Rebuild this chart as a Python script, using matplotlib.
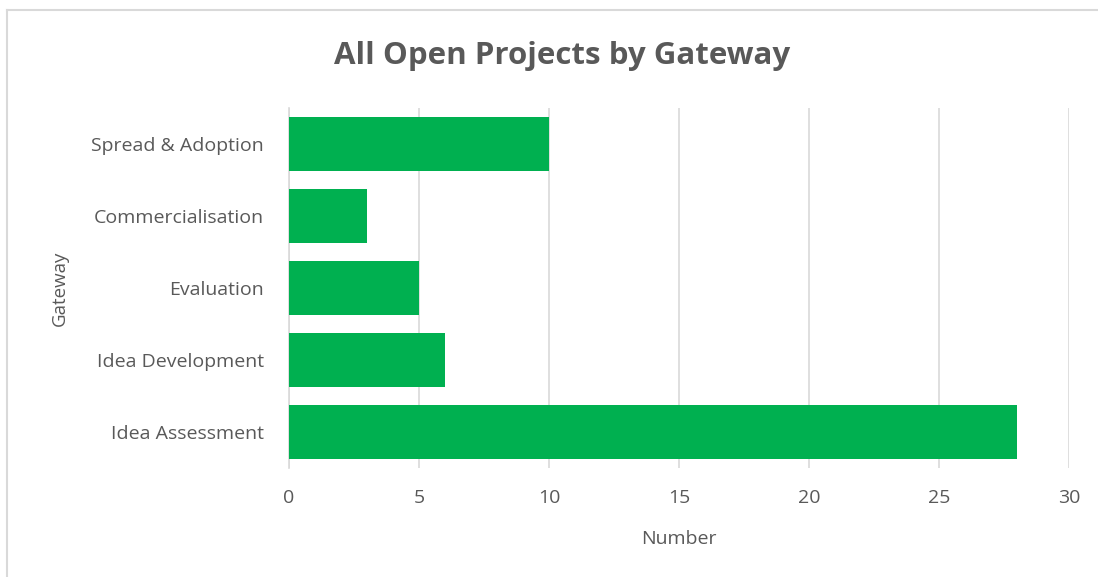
import matplotlib
matplotlib.use("Agg")
import matplotlib.pyplot as plt
from matplotlib.lines import Line2D

categories = ["Idea Assessment", "Idea Development", "Evaluation", "Commercialisation", "Spread & Adoption"]
values = [28, 6, 5, 3, 10]
xticks = [0, 5, 10, 15, 20, 25, 30]

plt.rcParams['font.family'] = ['Open Sans', 'DejaVu Sans']
W, H = 1098, 577
fig = plt.figure(figsize=(W/100, H/100), dpi=100)
ax = fig.add_axes([289/W, 1-468/H, (1069-289)/W, (468-108)/H])

ax.barh(range(len(categories)), values, height=0.74, color="#00B050", zorder=3)
ax.set_ylim(-0.5, len(categories)-0.5)
ax.set_xlim(0, 30)
ax.set_xticks(xticks)
ax.set_yticks(range(len(categories)))
ax.set_yticklabels(categories)
ax.grid(axis='x', color='#D9D9D9', linewidth=1.2, zorder=0)
for s in ['top', 'right', 'bottom']:
    ax.spines[s].set_visible(False)
ax.spines['left'].set_color('#D9D9D9')
ax.spines['left'].set_linewidth(1.2)
ax.tick_params(axis='both', length=0, colors='#595959', labelsize=14)
ax.tick_params(axis='x', pad=15)
ax.tick_params(axis='y', pad=18)
ax.set_xlabel("Number", color='#595959', fontsize=14, labelpad=17)
ax.set_ylabel("Gateway", color='#595959', fontsize=13.5, labelpad=16)

fig.text(562/W, 1-56/H, "All Open Projects by Gateway", ha='center', va='center',
         fontsize=22.5, fontweight='bold', color='#595959')

fig.add_artist(Line2D([7/W, 7/W], [0, 1-10/H], transform=fig.transFigure, color='#D9D9D9', linewidth=1.5))
fig.add_artist(Line2D([7/W, 1], [1-10/H, 1-10/H], transform=fig.transFigure, color='#D9D9D9', linewidth=1.5))

fig.savefig("out.png", dpi=100)
